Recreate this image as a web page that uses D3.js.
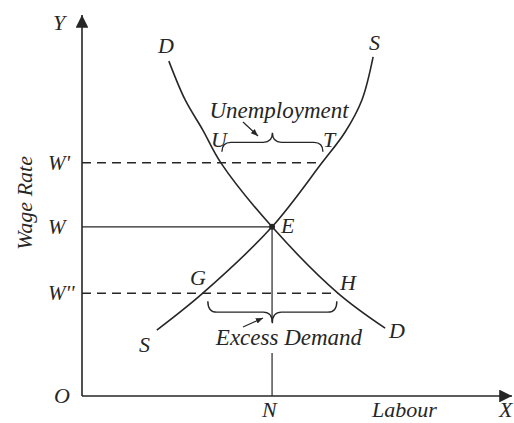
<!DOCTYPE html>
<html>
<head>
<meta charset="utf-8">
<script src="https://cdn.jsdelivr.net/npm/d3@7"></script>
<style>
  body { margin: 0; background: #fff; }
  svg text { font-family: "Liberation Serif", "DejaVu Serif", serif; font-style: italic; fill: #262626; }
</style>
</head>
<body>
<svg id="chart" width="514" height="423"></svg>
<script>
// wage levels (data units on the wage axis)
const wageLabels = ["W'", "W", "W''"];
const wageValues = [6.12, 4.44, 2.70];

// equilibrium labour
const equilibriumLabour = 4.42;

// demand curve D (labour, wage)
const demandLabour = [2.02, 2.40, 2.81, 3.23, 4.42, 5.95, 7.05];
const demandWage   = [8.79, 7.77, 6.98, 6.12, 4.44, 2.70, 1.78];

// supply curve S (labour, wage)
const supplyLabour = [1.74, 2.81, 4.42, 5.58, 6.12, 6.51, 6.77];
const supplyWage   = [1.73, 2.70, 4.44, 6.12, 6.93, 7.77, 8.90];

const width = 514, height = 423;
const margin = {top: 15, right: 2, bottom: 27, left: 82};

const svg = d3.select("#chart");
const ink = "#262626";

const x = d3.scaleLinear().domain([0, 10]).range([margin.left, width - margin.right]);
const y = d3.scaleLinear().domain([0, 10]).range([height - margin.bottom, margin.top]);

const defs = svg.append("defs");
defs.append("marker")
    .attr("id", "axisHead")
    .attr("viewBox", "0 0 10 10")
    .attr("refX", 10).attr("refY", 5)
    .attr("markerWidth", 8).attr("markerHeight", 8)
    .attr("markerUnits", "strokeWidth")
    .attr("orient", "auto")
    .append("path").attr("d", "M0,0 L10,5 L0,10 Z").attr("fill", ink);
defs.append("marker")
    .attr("id", "smallHead")
    .attr("viewBox", "0 0 10 10")
    .attr("refX", 10).attr("refY", 5)
    .attr("markerWidth", 6).attr("markerHeight", 6)
    .attr("markerUnits", "strokeWidth")
    .attr("orient", "auto")
    .append("path").attr("d", "M0,1 L10,5 L0,9 Z").attr("fill", ink);

// axes
svg.append("line")
    .attr("x1", x(0)).attr("y1", y(0))
    .attr("x2", x(0)).attr("y2", y(10))
    .attr("stroke", ink).attr("stroke-width", 1.6)
    .attr("marker-end", "url(#axisHead)");
svg.append("line")
    .attr("x1", x(0)).attr("y1", y(0))
    .attr("x2", x(10)).attr("y2", y(0))
    .attr("stroke", ink).attr("stroke-width", 1.6)
    .attr("marker-end", "url(#axisHead)");

const E = {lx: equilibriumLabour, w: wageValues[1]};
const U = {lx: demandLabour[3], w: wageValues[0]};
const T = {lx: supplyLabour[3], w: wageValues[0]};
const G = {lx: supplyLabour[1], w: wageValues[2]};
const H = {lx: demandLabour[5], w: wageValues[2]};

// wage lines
svg.append("line")
    .attr("x1", x(0)).attr("x2", x(T.lx))
    .attr("y1", y(wageValues[0])).attr("y2", y(wageValues[0]))
    .attr("stroke", ink).attr("stroke-width", 1.5)
    .attr("stroke-dasharray", "9,6");
svg.append("line")
    .attr("x1", x(0)).attr("x2", x(E.lx))
    .attr("y1", y(wageValues[1])).attr("y2", y(wageValues[1]))
    .attr("stroke", ink).attr("stroke-width", 1.3);
svg.append("line")
    .attr("x1", x(0)).attr("x2", x(H.lx))
    .attr("y1", y(wageValues[2])).attr("y2", y(wageValues[2]))
    .attr("stroke", ink).attr("stroke-width", 1.5)
    .attr("stroke-dasharray", "9,6");

// vertical from E to N, broken by the "Excess Demand" text
svg.append("line")
    .attr("x1", x(E.lx)).attr("x2", x(E.lx))
    .attr("y1", y(E.w)).attr("y2", 322)
    .attr("stroke", ink).attr("stroke-width", 1.2);
svg.append("line")
    .attr("x1", x(E.lx)).attr("x2", x(E.lx))
    .attr("y1", 353).attr("y2", y(0))
    .attr("stroke", ink).attr("stroke-width", 1.2);

// curves
const line = d3.line()
    .x(d => x(d[0]))
    .y(d => y(d[1]))
    .curve(d3.curveCatmullRom.alpha(0.5));

svg.append("path")
    .datum(d3.zip(demandLabour, demandWage))
    .attr("d", line)
    .attr("fill", "none").attr("stroke", ink).attr("stroke-width", 1.6);
svg.append("path")
    .datum(d3.zip(supplyLabour, supplyWage))
    .attr("d", line)
    .attr("fill", "none").attr("stroke", ink).attr("stroke-width", 1.6);

svg.append("circle")
    .attr("cx", x(E.lx)).attr("cy", y(E.w)).attr("r", 3)
    .attr("fill", ink);

// curly brace between x1 and x2 at height yb, tip offset h
function brace(x1, x2, yb, h) {
    const mid = (x1 + x2) / 2, r = 9, m = yb + h / 2;
    return `M${x1},${yb} Q${x1},${m} ${x1 + r},${m} L${mid - r},${m} Q${mid},${m} ${mid},${yb + h}` +
           ` Q${mid},${m} ${mid + r},${m} L${x2 - r},${m} Q${x2},${m} ${x2},${yb}`;
}

svg.append("path")
    .attr("d", brace(x(U.lx) + 1, x(T.lx) + 1, y(U.w) - 11, -19))
    .attr("fill", "none").attr("stroke", ink).attr("stroke-width", 1.4);
svg.append("path")
    .attr("d", brace(x(G.lx) + 5, x(H.lx) - 1, y(G.w) + 8, 22))
    .attr("fill", "none").attr("stroke", ink).attr("stroke-width", 1.4);

// little pointer arrows
svg.append("line")
    .attr("x1", 243).attr("y1", 122).attr("x2", 258).attr("y2", 136)
    .attr("stroke", ink).attr("stroke-width", 1.2)
    .attr("marker-end", "url(#smallHead)");
svg.append("line")
    .attr("x1", 243).attr("y1", 327).attr("x2", 263).attr("y2", 318)
    .attr("stroke", ink).attr("stroke-width", 1.2)
    .attr("marker-end", "url(#smallHead)");

// labels
const labels = [
    {t: "Y", x: 53, y: 30},
    {t: "D", x: 158, y: 53},
    {t: "S", x: 369, y: 50},
    {t: "U", x: 211, y: 147},
    {t: "T", x: 323, y: 147},
    {t: "E", x: 281, y: 233},
    {t: "G", x: 190, y: 285},
    {t: "H", x: 340, y: 290},
    {t: "D", x: 389, y: 338},
    {t: "S", x: 139, y: 352},
    {t: "O", x: 54, y: 403},
    {t: "N", x: 262, y: 417},
    {t: "X", x: 499, y: 417}
];
svg.selectAll("text.pt")
    .data(labels)
    .enter().append("text")
    .attr("class", "pt")
    .attr("x", d => d.x).attr("y", d => d.y)
    .style("font-size", "22px")
    .text(d => d.t);

svg.selectAll("text.wage")
    .data(wageLabels)
    .enter().append("text")
    .attr("class", "wage")
    .attr("x", 48)
    .attr("y", (d, i) => y(wageValues[i]) + 7)
    .style("font-size", "21px")
    .text(d => d);

svg.append("text")
    .attr("transform", "translate(32,203) rotate(-90)")
    .attr("text-anchor", "middle")
    .style("font-size", "22px")
    .text("Wage Rate");

svg.append("text")
    .attr("x", 372).attr("y", 417)
    .style("font-size", "22px")
    .text("Labour");

svg.append("text")
    .attr("x", 279).attr("y", 118)
    .attr("text-anchor", "middle")
    .style("font-size", "23px")
    .text("Unemployment");

svg.append("text")
    .attr("x", 289).attr("y", 345)
    .attr("text-anchor", "middle")
    .style("font-size", "23px")
    .text("Excess Demand");
</script>
</body>
</html>
